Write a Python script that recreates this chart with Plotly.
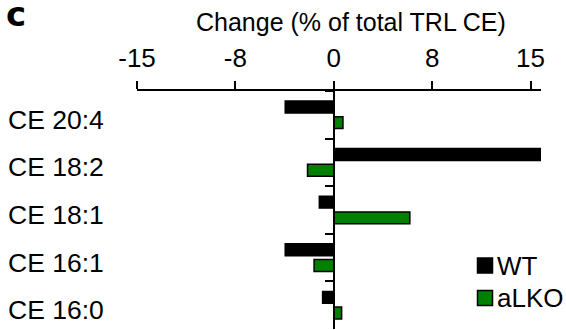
import plotly.graph_objects as go

# Lipid species (top to bottom) and change in % of total TRL CE
categories = ["CE 20:4", "CE 18:2", "CE 18:1", "CE 16:1", "CE 16:0"]
wt_change = [-3.7, 15.8, -1.1, -3.7, -0.85]
alko_change = [0.7, -2.0, 5.8, -1.5, 0.6]

series_names = ["WT", "aLKO"]
series_colors = ["#000000", "#008000"]

x_tickvals = [-15, -7.5, 0, 7.5, 15]
x_ticktext = ["-15", "-8", "0", "8", "15"]
x_range = [-15, 15.8]

W, H = 566, 330
M = dict(l=137, r=25, t=91, b=1)
PW = W - M["l"] - M["r"]
PH = H - M["t"] - M["b"]
FONT = "Liberation Sans, Arial, sans-serif"


def px_x(px):
    return (px - M["l"]) / PW


def px_y(py):
    return (H - M["b"] - py) / PH


fig = go.Figure()
for name, vals, color in zip(series_names, [wt_change, alko_change], series_colors):
    fig.add_trace(go.Bar(
        y=categories, x=vals, name=name, orientation="h",
        marker=dict(color=color, line=dict(color="#000000", width=1.5)),
        showlegend=False,
    ))

# category labels at the far left of the plot
annotations = []
for cat in categories:
    annotations.append(dict(
        x=0, xref="paper", y=cat, yref="y", text=cat, showarrow=False,
        xanchor="right", yanchor="middle", xshift=-31, yshift=-5,
        font=dict(family=FONT, size=26.5, color="#000000"),
    ))

# axis title
annotations.append(dict(
    x=px_x(351), xref="paper", y=px_y(22), yref="paper",
    text="Change (% of total TRL CE)", showarrow=False,
    xanchor="center", yanchor="middle",
    font=dict(family=FONT, size=25, color="#000000"),
))

# panel letter
annotations.append(dict(
    x=px_x(4), xref="paper", y=px_y(14), yref="paper",
    text="<b>c</b>", showarrow=False, xanchor="left", yanchor="middle",
    font=dict(family="DejaVu Sans, sans-serif", size=34, color="#000000"),
))

# legend
shapes = []
legend_rows = [265.5, 298]
for name, color, cy in zip(series_names, series_colors, legend_rows):
    shapes.append(dict(
        type="rect", xref="paper", yref="paper",
        x0=px_x(477.5), x1=px_x(492.5), y0=px_y(cy - 7.5), y1=px_y(cy + 7.5),
        fillcolor=color, line=dict(color="#000000", width=1.5),
    ))
    annotations.append(dict(
        x=px_x(494.5), xref="paper", y=px_y(cy), yref="paper", text=name,
        showarrow=False, xanchor="left", yanchor="middle",
        font=dict(family=FONT, size=26, color="#000000"),
    ))

fig.update_layout(
    width=W, height=H, margin=M,
    paper_bgcolor="white", plot_bgcolor="white",
    barmode="group", bargap=0.34, bargroupgap=0.24,
    font=dict(family=FONT, size=25, color="#000000"),
    xaxis=dict(
        side="top", range=x_range, tickvals=x_tickvals, ticktext=x_ticktext,
        ticks="outside", ticklen=8, tickwidth=2, tickcolor="#000000",
        showline=True, linewidth=2, linecolor="#000000",
        showgrid=False, zeroline=False, ticklabelstandoff=4,
        tickfont=dict(family=FONT, size=26, color="#000000"),
    ),
    yaxis=dict(
        type="category", categoryorder="array", categoryarray=categories,
        autorange="reversed",
        anchor="free", position=(0 - x_range[0]) / (x_range[1] - x_range[0]),
        showline=True, linewidth=2, linecolor="#000000",
        ticks="outside", tickson="boundaries", ticklen=8, tickwidth=2,
        tickcolor="#000000", showticklabels=False, showgrid=False,
        zeroline=False,
    ),
    annotations=annotations, shapes=shapes,
)

fig.write_html("out.html")
